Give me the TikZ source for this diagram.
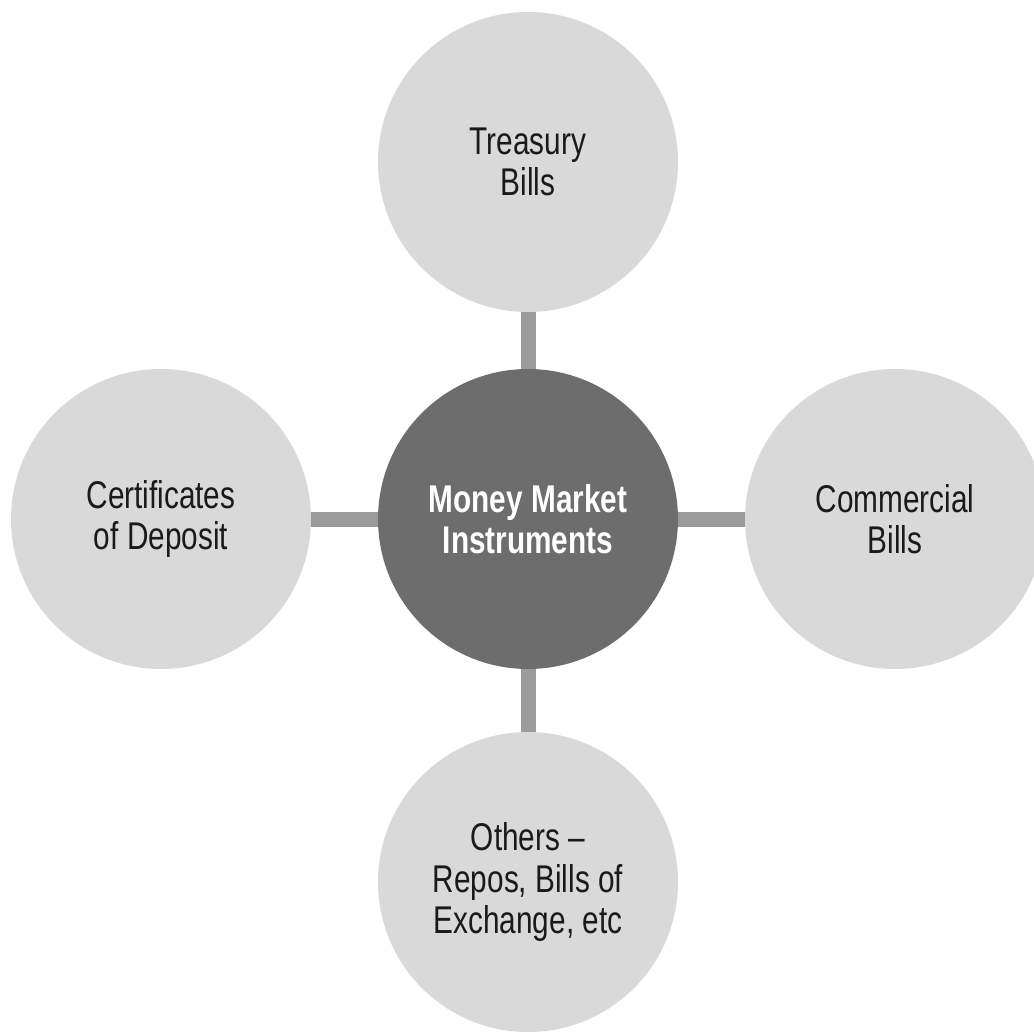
\documentclass[tikz,border=0pt]{standalone}
\usepackage{fontspec}
\setmainfont[FakeStretch=0.77]{Liberation Sans}
\usepackage{xcolor}
\usepackage{tikz}

\definecolor{hubgray}{HTML}{6D6D6D}
\definecolor{leafgray}{HTML}{D9D9D9}
\definecolor{linkgray}{HTML}{9B9B9B}
\definecolor{inkgray}{HTML}{1A1A1A}

\tikzset{
  leaf/.style={circle, fill=leafgray, minimum size=6cm, inner sep=0pt,
    align=center, text=inkgray, font=\fontsize{22}{23.5}\selectfont},
  hub/.style={leaf, fill=hubgray, text=white, font=\fontsize{22}{23.5}\selectfont\bfseries},
  link/.style={draw=linkgray, line width=0.3cm}
}

\begin{document}
\begin{tikzpicture}

\useasboundingbox (-10.56,-10.28) rectangle (10.12,10.38);

% hub and the four instrument groups
\node[hub] (mmi) at (0,0) {Money Market\\Instruments};
\node[leaf] (tbills) at (0,7.14) {Treasury\\Bills};
\node[leaf] (cbills) at (7.34,0) {Commercial\\Bills};
\node[leaf] (cdep) at (-7.34,0) {Certificates\\of Deposit};
\node[leaf] (others) at (0,-7.26) {Others --\\Repos, Bills of\\Exchange, etc};

% spokes
\draw[link] (mmi) -- (tbills);
\draw[link] (mmi) -- (cbills);
\draw[link] (mmi) -- (cdep);
\draw[link] (mmi) -- (others);

\end{tikzpicture}
\end{document}
